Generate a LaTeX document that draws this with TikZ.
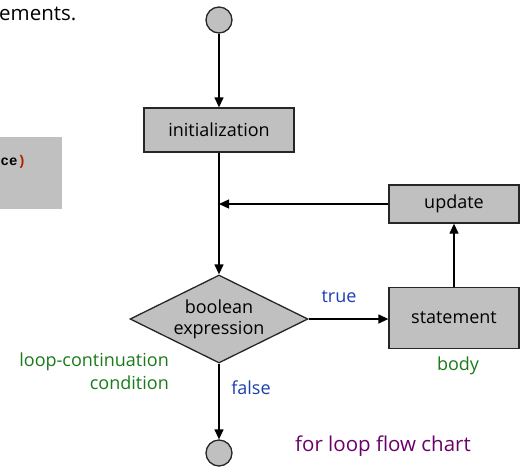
\documentclass[tikz,border=0pt]{standalone}
\usepackage{fontspec}
\setmainfont{Open Sans}
\newfontfamily\codefont{Liberation Mono}
\usetikzlibrary{arrows.meta,shapes.geometric}
\definecolor{boxgray}{HTML}{C0C0C0}
\definecolor{lblblue}{HTML}{1A3FB0}
\definecolor{lblgreen}{HTML}{1A7A1A}
\definecolor{lblpurple}{HTML}{6A006A}
\definecolor{codered}{HTML}{B02000}
\tikzset{
  stepbox/.style={draw=black!85, line width=1.3pt, fill=boxgray, minimum width=130pt, inner sep=0pt, font=\fontsize{18}{21}\selectfont},
  termcirc/.style={circle, draw=black!85, line width=1.3pt, fill=boxgray, minimum size=26pt, inner sep=0pt},
  decision/.style={diamond, aspect=2.02, draw=black!85, line width=1.3pt, fill=boxgray, minimum width=178pt, minimum height=88pt, inner sep=0pt, align=center, font=\fontsize{18}{21}\selectfont},
  flow/.style={line width=1.3pt, -{Triangle[length=10pt,width=9pt]}},
  lbl/.style={font=\fontsize{18}{23}\selectfont, inner sep=0pt}
}
\begin{document}
\begin{tikzpicture}[x=1pt,y=-1pt]
\useasboundingbox (0,0) rectangle (525,467);
% left partial content
\fill[boxgray] (0,137) rectangle (62,209);
\node[anchor=base west, inner sep=0pt, font=\fontsize{20.5}{24}\selectfont] (title) at (-1,20) {ements.};
\node[anchor=base west, inner sep=0pt, font=\codefont\bfseries\fontsize{14}{16}\selectfont] (code) at (0.5,165) {ce\textcolor{codered}{)}};
% flow chart
\node[termcirc] (start) at (219,20) {};
\node[stepbox, minimum width=150pt, minimum height=44pt] (init) at (219,130) {initialization};
\node[decision] (cond) at (219,319) {boolean\\expression};
\node[stepbox, minimum height=38pt] (update) at (454,204) {update};
\node[stepbox, minimum height=61pt] (stmt) at (454,318) {statement};
\node[termcirc] (stop) at (219,453) {};
\draw[flow] (start) -- (init);
\draw[flow] (init) -- (cond.north);
\draw[flow] (update.west) -- (update.west -| init);
\draw[flow] (cond.east) -- (stmt.west |- cond.east);
\draw[flow] (stmt.north) -- (update.south);
\draw[flow] (cond.south) -- (stop);
% labels
\node[lbl, text=lblblue] (ltrue) at (339,297) {true};
\node[lbl, text=lblblue] (lfalse) at (251,388) {false};
\node[lbl, text=lblgreen] (lbody) at (458,366) {body};
\node[lbl, text=lblgreen, align=right, anchor=east] (lcond) at (169,371) {loop-continuation\\condition};
\node[lbl, text=lblpurple, font=\fontsize{20.5}{24}\selectfont] (lchart) at (383,446) {for loop flow chart};
\end{tikzpicture}
\end{document}
